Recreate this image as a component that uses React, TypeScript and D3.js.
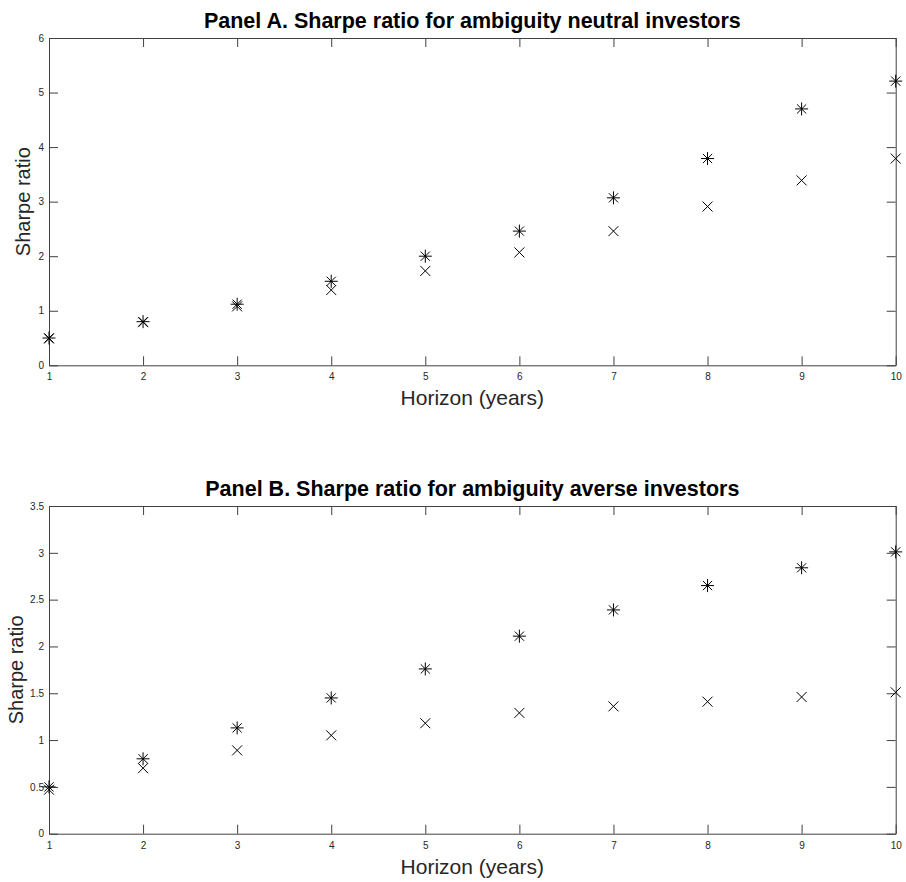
import React, { useEffect, useRef } from "react";
import * as d3 from "d3";

// horizon in years
const horizons = [1, 2, 3, 4, 5, 6, 7, 8, 9, 10];

// Panel A: ambiguity neutral
const neutralStar = [0.5, 0.8, 1.12, 1.54, 2.0, 2.46, 3.07, 3.79, 4.7, 5.21];
const neutralCross = [0.49, 0.79, 1.08, 1.38, 1.73, 2.07, 2.46, 2.91, 3.39, 3.79];

// Panel B: ambiguity averse
const averseStar = [0.5, 0.8, 1.13, 1.45, 1.76, 2.11, 2.39, 2.65, 2.84, 3.01];
const averseCross = [0.47, 0.7, 0.89, 1.05, 1.18, 1.29, 1.36, 1.41, 1.46, 1.51];

const yTicksA = [0, 1, 2, 3, 4, 5, 6];
const yTicksB = [0, 0.5, 1, 1.5, 2, 2.5, 3, 3.5];

const W = 906;
const H = 882;
const axisColor = "#404040";
const font = "Liberation Sans, Arial, Helvetica, sans-serif";

function drawPanel(svg, opt) {
  const { top, bottom, left, right, yMax, yTicks, star, cross, title, yLabelX } = opt;
  const x = d3.scaleLinear().domain([1, 10]).range([left, right]);
  const y = d3.scaleLinear().domain([0, yMax]).range([bottom, top]);

  const g = svg.append("g");

  const bx = g.append("g").attr("transform", `translate(0,${bottom})`)
    .call(d3.axisBottom(x).tickValues(horizons).tickFormat(d3.format("d")).tickSizeInner(-9).tickSizeOuter(0).tickPadding(8));
  const tx = g.append("g").attr("transform", `translate(0,${top})`)
    .call(d3.axisTop(x).tickValues(horizons).tickFormat(() => "").tickSizeInner(-9).tickSizeOuter(0));
  const ly = g.append("g").attr("transform", `translate(${left},0)`)
    .call(d3.axisLeft(y).tickValues(yTicks).tickFormat(d3.format("")).tickSizeInner(-9).tickSizeOuter(0).tickPadding(5));
  const ry = g.append("g").attr("transform", `translate(${right},0)`)
    .call(d3.axisRight(y).tickValues(yTicks).tickFormat(() => "").tickSizeInner(-9).tickSizeOuter(0));

  [bx, tx, ly, ry].forEach(a => {
    a.selectAll("path, line").attr("stroke", axisColor).attr("stroke-width", 1);
    a.selectAll("text").attr("fill", "#262626").style("font-family", font).style("font-size", "10px");
  });

  // asterisk markers
  const s = g.append("g").attr("stroke", "#000").attr("stroke-width", 1).attr("fill", "none");
  horizons.forEach((h, i) => {
    const cx = x(h), cy = y(star[i]);
    const a = 6.5, b = 4.6;
    s.append("path").attr("d",
      `M${cx - a},${cy}L${cx + a},${cy}M${cx},${cy - a}L${cx},${cy + a}` +
      `M${cx - b},${cy - b}L${cx + b},${cy + b}M${cx - b},${cy + b}L${cx + b},${cy - b}`);
  });
  // cross markers
  horizons.forEach((h, i) => {
    const cx = x(h), cy = y(cross[i]);
    const c = 5;
    s.append("path").attr("d",
      `M${cx - c},${cy - c}L${cx + c},${cy + c}M${cx - c},${cy + c}L${cx + c},${cy - c}`);
  });

  const mid = (left + right) / 2;
  g.append("text").attr("x", mid).attr("y", top - 10).attr("text-anchor", "middle")
    .style("font-family", font).style("font-size", "21.5px").style("font-weight", "bold").attr("fill", "#000")
    .text(title);
  g.append("text").attr("x", mid).attr("y", bottom + 40).attr("text-anchor", "middle")
    .style("font-family", font).style("font-size", "21px").attr("fill", "#262626")
    .text("Horizon (years)");
  g.append("text").attr("transform", `translate(${yLabelX},${(top + bottom) / 2}) rotate(-90)`)
    .attr("text-anchor", "middle")
    .style("font-family", font).style("font-size", "20px").attr("fill", "#262626")
    .text("Sharpe ratio");
}

export default function App() {
  const ref = useRef(null);
  useEffect(() => {
    const svg = d3.select(ref.current);
    svg.selectAll("*").remove();
    drawPanel(svg, {
      top: 38, bottom: 365.3, left: 49, right: 895.7, yMax: 6, yTicks: yTicksA,
      star: neutralStar, cross: neutralCross, yLabelX: 30,
      title: "Panel A. Sharpe ratio for ambiguity neutral investors",
    });
    drawPanel(svg, {
      top: 506, bottom: 833.7, left: 49, right: 895.7, yMax: 3.5, yTicks: yTicksB,
      star: averseStar, cross: averseCross, yLabelX: 23,
      title: "Panel B. Sharpe ratio for ambiguity averse investors",
    });
  }, []);
  return (
    <svg ref={ref} width={W} height={H}
      style={{ position: "absolute", left: 0, top: 0, background: "#fff" }} />
  );
}
